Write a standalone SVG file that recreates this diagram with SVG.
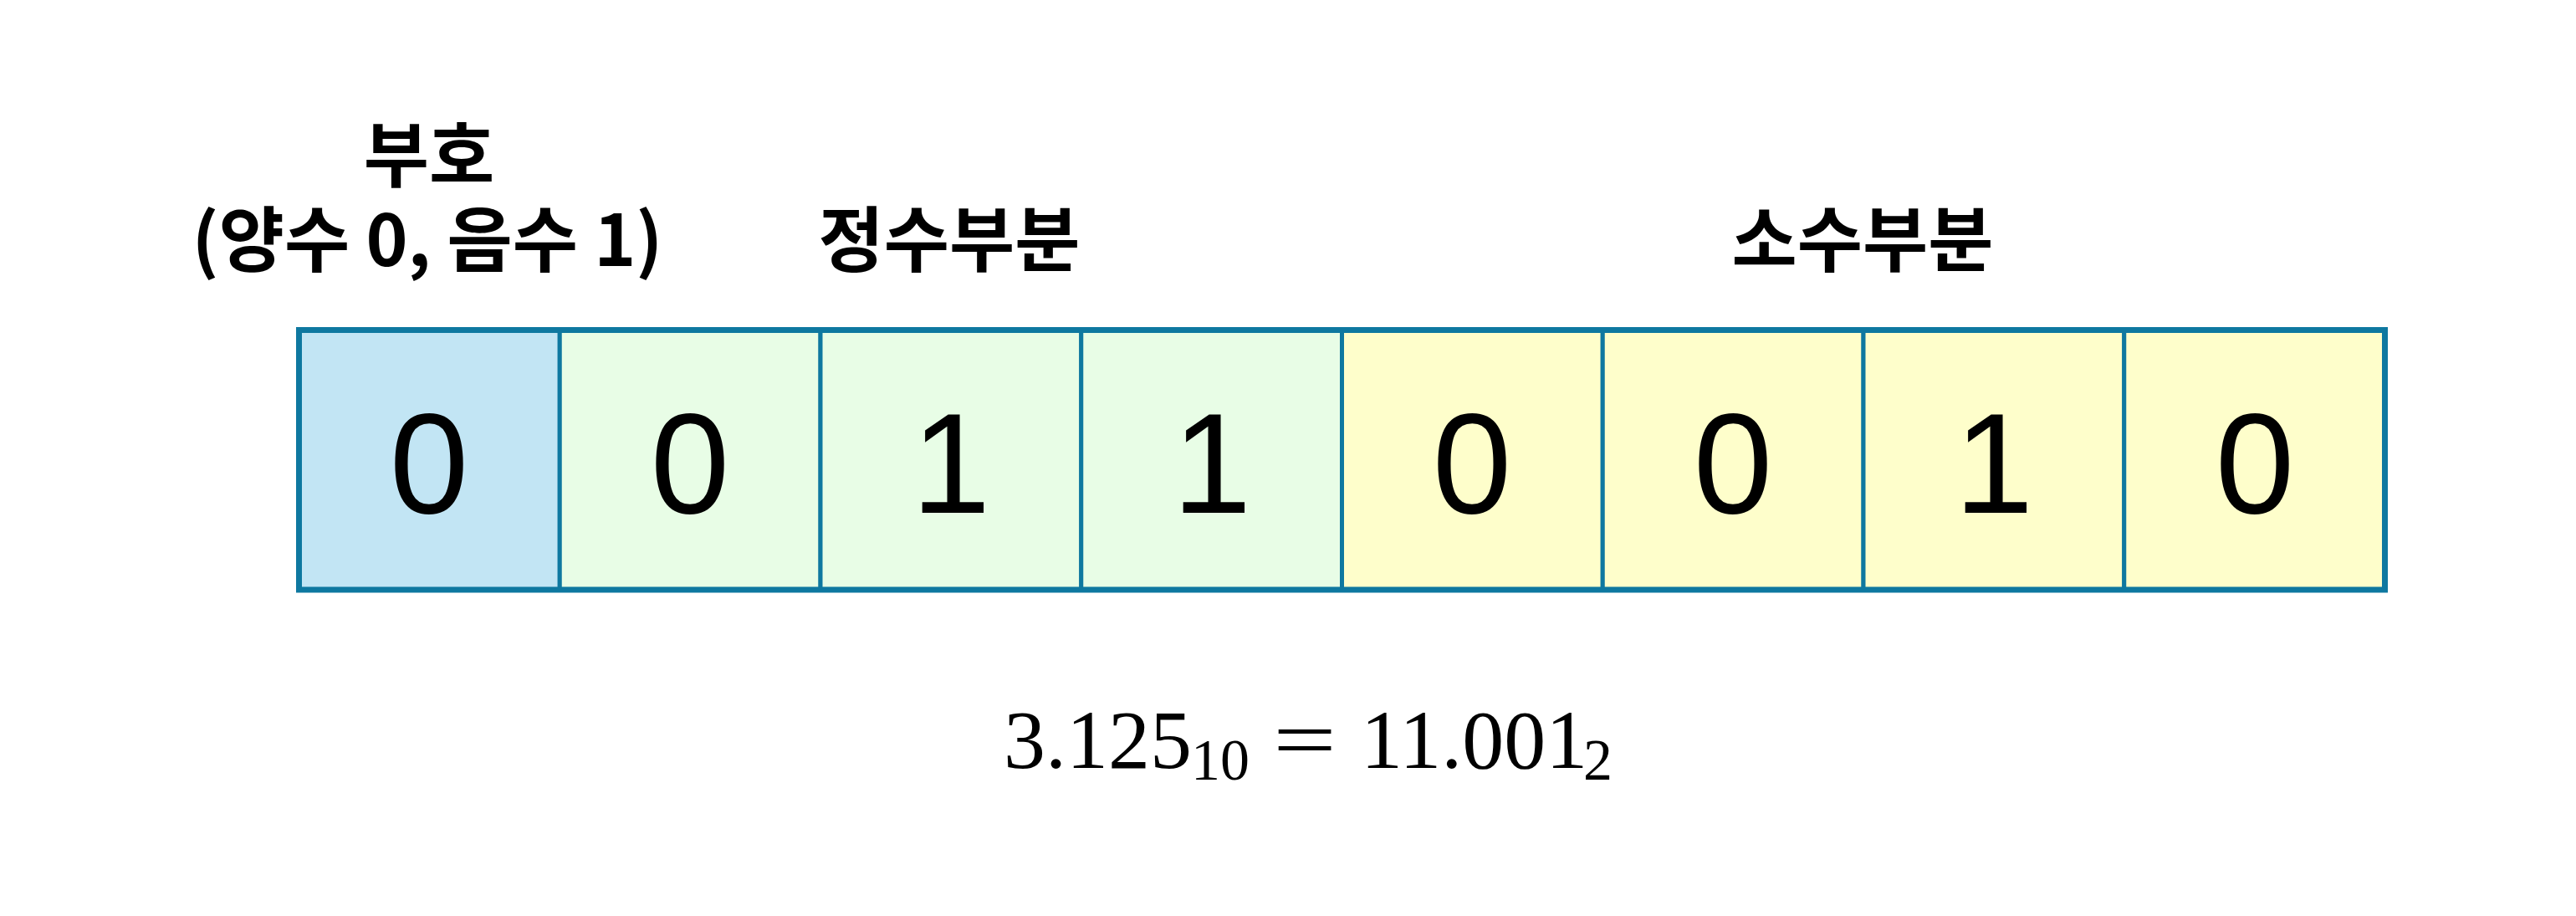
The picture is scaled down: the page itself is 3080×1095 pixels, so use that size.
<svg xmlns="http://www.w3.org/2000/svg" width="3080" height="1095" viewBox="0 0 3080 1095">
<style>
.cell{stroke:#0e78a0;stroke-width:5}
.outline{fill:none;stroke:#0e78a0;stroke-width:7}
.sign{fill:#c2e5f4}
.int{fill:#e8fde6}
.frac{fill:#fefecb}
.bit{font-family:"Liberation Sans",Arial,sans-serif;font-size:170px;fill:#000;text-anchor:middle}
.lbl{font-family:"Noto Sans CJK KR","Noto Sans",sans-serif;font-weight:bold;font-size:85px;fill:#000;text-anchor:middle}
.math{font-family:"Liberation Serif","DejaVu Serif",serif;fill:#000}
</style>
<rect width="3080" height="1095" fill="#fff"/>
<g id="labels">
<text class="lbl" x="513" y="217">부호</text>
<text class="lbl" x="511" y="318">(양수 0, 음수 1)</text>
<text class="lbl" x="1135" y="318">정수부분</text>
<text class="lbl" x="2227" y="318">소수부분</text>
</g>
<g id="bit0"><rect class="cell sign" x="357.5" y="394.5" width="311.75" height="310.5"/><text class="bit" x="513" y="613">0</text></g>
<g id="bit1"><rect class="cell int" x="669.25" y="394.5" width="311.75" height="310.5"/><text class="bit" x="825" y="613">0</text></g>
<g id="bit2"><rect class="cell int" x="981" y="394.5" width="311.75" height="310.5"/><text class="bit" x="1137" y="613">1</text></g>
<g id="bit3"><rect class="cell int" x="1292.75" y="394.5" width="311.75" height="310.5"/><text class="bit" x="1449" y="613">1</text></g>
<g id="bit4"><rect class="cell frac" x="1604.5" y="394.5" width="311.75" height="310.5"/><text class="bit" x="1760" y="613">0</text></g>
<g id="bit5"><rect class="cell frac" x="1916.25" y="394.5" width="311.75" height="310.5"/><text class="bit" x="2072" y="613">0</text></g>
<g id="bit6"><rect class="cell frac" x="2228" y="394.5" width="311.75" height="310.5"/><text class="bit" x="2384" y="613">1</text></g>
<g id="bit7"><rect class="cell frac" x="2539.75" y="394.5" width="311.75" height="310.5"/><text class="bit" x="2696" y="613">0</text></g>
<rect class="outline" x="357.5" y="394.5" width="2494" height="310.5"/>
<g id="formula">
<text class="math" x="1200" y="918" font-size="100">3.125</text>
<text class="math" x="1424" y="932" font-size="70">10</text>
<text class="math" x="1522" y="918" font-size="100" textLength="76" lengthAdjust="spacingAndGlyphs">=</text>
<text class="math" x="1627" y="918" font-size="100">11.001</text>
<text class="math" x="1893" y="932" font-size="70">2</text>
</g>
<g id="connectors"/>
</svg>
